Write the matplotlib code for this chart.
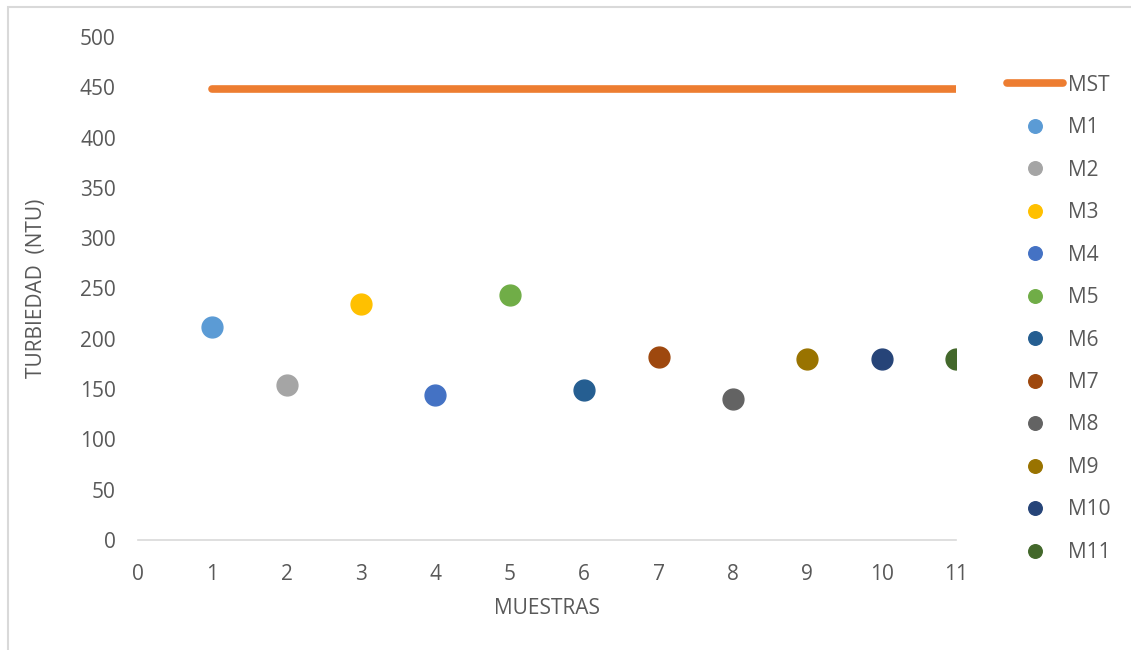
import matplotlib
matplotlib.use("Agg")
import matplotlib.pyplot as plt
from matplotlib.patches import Rectangle

# data
muestras = [1, 2, 3, 4, 5, 6, 7, 8, 9, 10, 11]
nombres = ["M1", "M2", "M3", "M4", "M5", "M6", "M7", "M8", "M9", "M10", "M11"]
turbiedad = [212, 154, 235, 144, 244, 149, 182, 140, 180, 180, 180]
mst_x = [1, 11]
mst_y = [448, 448]
colores = ["#5b9bd5", "#a5a5a5", "#ffc000", "#4472c4", "#70ad47", "#255e91",
           "#9e480e", "#636363", "#997300", "#264478", "#43682b"]
y_ticks = list(range(0, 501, 50))
x_ticks = list(range(0, 12))

plt.rcParams['font.family'] = ['Open Sans', 'DejaVu Sans']
gris = "#595959"

fig = plt.figure(figsize=(11.31, 6.5), dpi=100)
ax = fig.add_axes([138 / 1131, 1 - 540 / 650, (956 - 138) / 1131, (540 - 37) / 650])

# outer chart border (only left/top visible in the reference)
fig.patches.append(Rectangle((8 / 1131, -0.05), 1.2, 1.05 - 7 / 650,
                             transform=fig.transFigure, fill=False,
                             edgecolor="#d9d9d9", linewidth=1.5))

ax.plot(mst_x, mst_y, color="#ed7d31", linewidth=5.5, solid_capstyle="round",
        label="MST", zorder=2)
for x, y, c, n in zip(muestras, turbiedad, colores, nombres):
    ax.plot([x], [y], linestyle="none", marker="o", markersize=15, color=c,
            label=n, zorder=3)

ax.set_xlim(0, 11)
ax.set_ylim(0, 500)
ax.set_xticks(x_ticks)
ax.set_yticks(y_ticks)
ax.tick_params(axis="both", length=0, labelsize=15, labelcolor=gris)
ax.tick_params(axis="x", pad=17)
ax.tick_params(axis="y", pad=16)
for s in ["top", "right", "left"]:
    ax.spines[s].set_visible(False)
ax.spines["bottom"].set_color("#d9d9d9")
ax.spines["bottom"].set_linewidth(1.2)
for lbl in ax.get_xticklabels():
    lbl.set_clip_on(False)

ax.set_xlabel("MUESTRAS", fontsize=15, color=gris, labelpad=10)
ax.set_ylabel("TURBIEDAD  (NTU)", fontsize=15, color=gris, labelpad=24)

leg = ax.legend(loc="upper left", bbox_to_anchor=(988 / 1131, 1 - 56 / 650),
                bbox_transform=fig.transFigure, frameon=False, fontsize=15,
                handlelength=2.7, handletextpad=0.25, labelspacing=1.03,
                markerscale=0.65)
for t in leg.get_texts():
    t.set_color(gris)

fig.savefig("out.png", dpi=100)
